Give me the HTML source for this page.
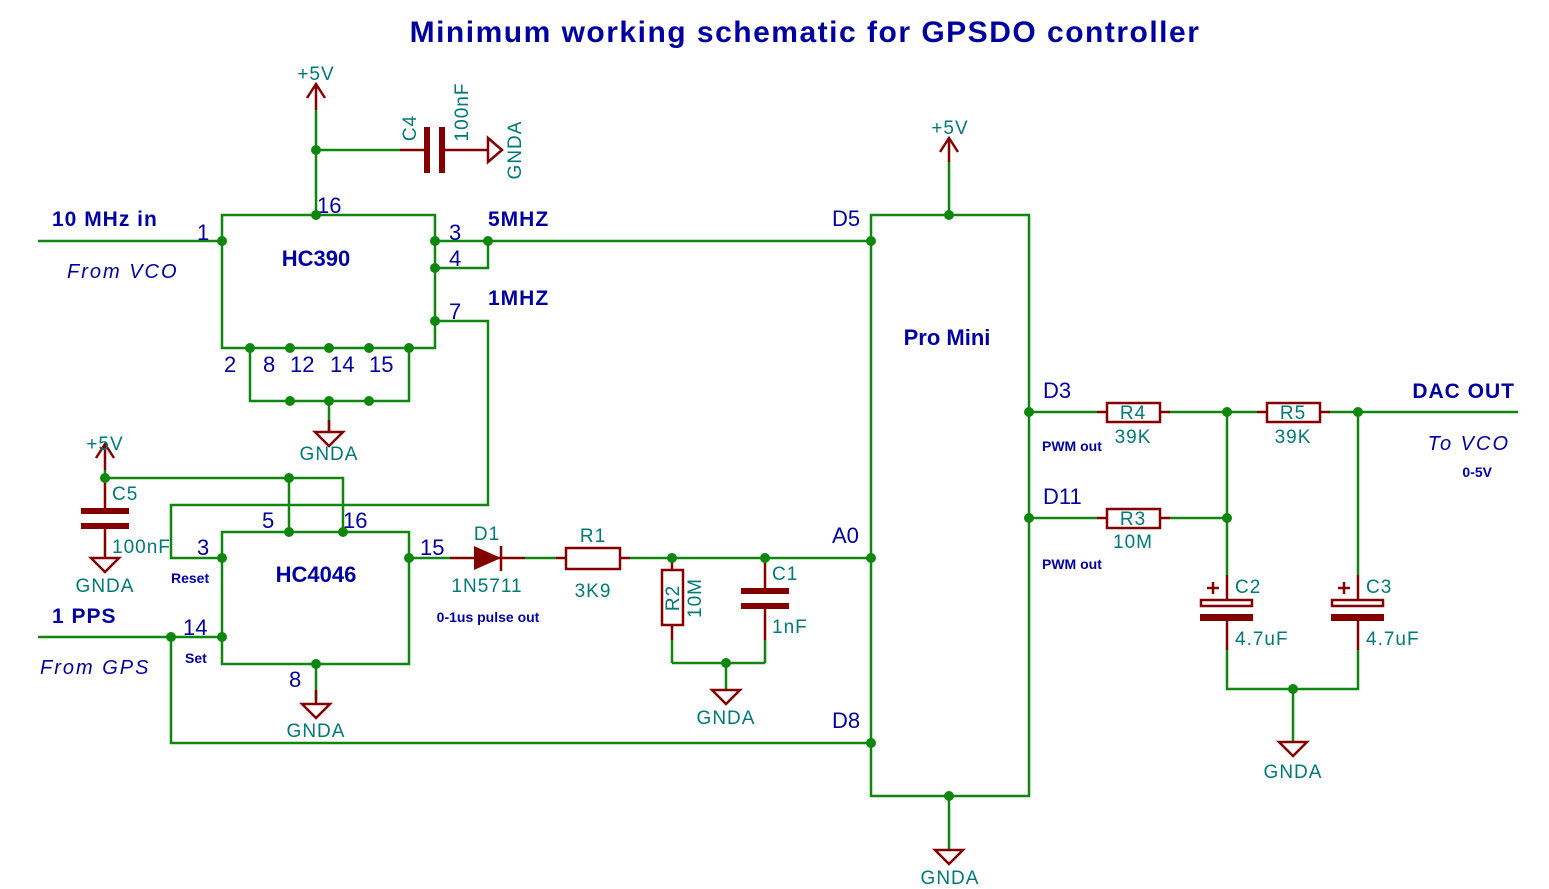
<!DOCTYPE html>
<html><head><meta charset="utf-8"><style>
html,body{margin:0;padding:0;background:#fff;}
svg{display:block;}
.w{stroke:#0f870f;stroke-width:2.5;fill:none;}
.r{stroke:#840000;stroke-width:2.5;fill:none;}
.rf{fill:#840000;stroke:none;}
.j{fill:#0f870f;}
.t{font-family:"Liberation Sans",sans-serif;fill:#007878;font-size:19px;letter-spacing:1px;}
.b{font-family:"Liberation Sans",sans-serif;fill:#0000a0;font-size:22px;}
.bb{font-family:"Liberation Sans",sans-serif;fill:#0000a0;font-weight:bold;}
.it{font-family:"Liberation Sans",sans-serif;fill:#0000a0;font-style:italic;font-size:20px;letter-spacing:2px;}
</style></head><body>
<svg width="1549" height="889" viewBox="0 0 1549 889" xmlns="http://www.w3.org/2000/svg">
<text x="805" y="42" text-anchor="middle" class="bb" font-size="30" letter-spacing="1.5">Minimum working schematic for GPSDO controller</text>

<!-- HC390 -->
<rect x="222" y="215" width="213" height="133" class="w"/>
<text x="316" y="266" text-anchor="middle" class="bb" font-size="22">HC390</text>
<path class="w" d="M38 241H222 M316 215V110 M316 150H400 M435 241H871 M435 268H488V241 M435 321H488V505H171V558H222
M250 348V401H409V348 M329 401V432"/>
<path class="r" d="M316 110V84 M307 98L316 84L325 98 M400 150H425 M442 150H488 M488 138L502 150L488 162Z"/>
<rect class="rf" x="424" y="127" width="6" height="46"/>
<rect class="rf" x="439" y="127" width="6" height="46"/>
<path class="r" d="M329 420V432 M315 432H343L329 446Z"/>
<text x="316" y="80" text-anchor="middle" class="t">+5V</text>
<text transform="translate(416,128) rotate(-90)" class="t" text-anchor="middle">C4</text>
<text transform="translate(468,112) rotate(-90)" class="t" text-anchor="middle">100nF</text>
<text transform="translate(521,150) rotate(-90)" class="t" text-anchor="middle">GNDA</text>
<text x="329" y="460" text-anchor="middle" class="t">GNDA</text>
<text x="317" y="213" class="b">16</text>
<text x="197" y="240" class="b">1</text>
<text x="449" y="240" class="b">3</text>
<text x="449" y="266" class="b">4</text>
<text x="449" y="319" class="b">7</text>
<text x="224" y="372" class="b">2</text>
<text x="263" y="372" class="b">8</text>
<text x="290" y="372" class="b">12</text>
<text x="330" y="372" class="b">14</text>
<text x="369" y="372" class="b">15</text>
<text x="52" y="226" class="bb" font-size="21" letter-spacing="1">10 MHz in</text>
<text x="67" y="278" class="it">From VCO</text>
<text x="488" y="226" class="bb" font-size="21" letter-spacing="1">5MHZ</text>
<text x="488" y="305" class="bb" font-size="21" letter-spacing="1">1MHZ</text>

<!-- HC4046 -->
<rect x="222" y="532" width="187" height="132" class="w"/>
<text x="316" y="582" text-anchor="middle" class="bb" font-size="22">HC4046</text>
<path class="w" d="M105 478H343V532 M289 478V532 M105 478V470 M38 637H222 M171 637V743H871 M316 664V700"/>
<path class="r" d="M105 470V444 M96 458L105 444L114 458 M105 478V512 M105 526V558 M91 558H119L105 572Z"/>
<rect class="rf" x="81" y="508" width="48" height="6"/>
<rect class="rf" x="81" y="523" width="48" height="6"/>
<path class="r" d="M316 690V704 M302 704H330L316 718Z"/>
<text x="105" y="450" text-anchor="middle" class="t">+5V</text>
<text x="112" y="500" class="t">C5</text>
<text x="112" y="553" class="t">100nF</text>
<text x="105" y="592" text-anchor="middle" class="t">GNDA</text>
<text x="316" y="737" text-anchor="middle" class="t">GNDA</text>
<text x="197" y="555" class="b">3</text>
<text x="171" y="583" class="bb" font-size="14">Reset</text>
<text x="183" y="635" class="b">14</text>
<text x="185" y="663" class="bb" font-size="14">Set</text>
<text x="262" y="528" class="b">5</text>
<text x="343" y="528" class="b">16</text>
<text x="420" y="555" class="b">15</text>
<text x="289" y="687" class="b">8</text>
<text x="52" y="623" class="bb" font-size="21" letter-spacing="1">1 PPS</text>
<text x="40" y="674" class="it">From GPS</text>

<!-- diode chain -->
<path class="w" d="M409 558H450 M525 558H556 M630 558H871 M672 663H765 M726 663V690"/>
<path class="r" d="M450 558H525 M501 546V571 M556 558H566 M620 558H630"/>
<path class="rf" d="M474 546L501 558L474 570Z"/>
<rect x="566" y="548" width="54" height="21" class="r"/>
<path class="r" d="M672 558V570 M672 626V640 M765 558V592 M765 606V640"/>
<path class="w" d="M672 640V663 M765 640V663"/>
<rect x="662" y="570" width="21" height="55" class="r"/>
<rect class="rf" x="741" y="588" width="48" height="6"/>
<rect class="rf" x="741" y="603" width="48" height="6"/>
<path class="r" d="M712 690H740L726 704Z"/>
<text x="487" y="540" text-anchor="middle" class="t">D1</text>
<text x="487" y="592" text-anchor="middle" class="t">1N5711</text>
<text x="488" y="622" text-anchor="middle" class="bb" font-size="14">0-1us pulse out</text>
<text x="593" y="542" text-anchor="middle" class="t">R1</text>
<text x="593" y="597" text-anchor="middle" class="t">3K9</text>
<text transform="translate(679,598) rotate(-90)" class="t" text-anchor="middle">R2</text>
<text transform="translate(701,598) rotate(-90)" class="t" text-anchor="middle">10M</text>
<text x="772" y="580" class="t">C1</text>
<text x="772" y="633" class="t">1nF</text>
<text x="726" y="724" text-anchor="middle" class="t">GNDA</text>

<!-- Pro Mini -->
<rect x="871" y="215" width="158" height="581" class="w"/>
<text x="947" y="345" text-anchor="middle" class="bb" font-size="22">Pro Mini</text>
<path class="w" d="M949 215V162 M949 796V850"/>
<path class="r" d="M949 162V138 M940 152L949 138L958 152 M935 850H963L949 864Z"/>
<text x="950" y="134" text-anchor="middle" class="t">+5V</text>
<text x="950" y="884" text-anchor="middle" class="t">GNDA</text>
<text x="832" y="226" class="b">D5</text>
<text x="832" y="543" class="b">A0</text>
<text x="832" y="728" class="b">D8</text>
<text x="1043" y="398" class="b">D3</text>
<text x="1043" y="504" class="b">D11</text>

<!-- DAC filter -->
<path class="w" d="M1029 412H1097 M1170 412H1257 M1330 412H1518 M1029 518H1097 M1170 518H1227 M1227 412V575 M1358 412V575 M1227 650V689H1358V650 M1293 689V742"/>
<path class="r" d="M1097 412H1107 M1160 412H1170 M1257 412H1267 M1320 412H1330 M1097 518H1107 M1160 518H1170
M1227 575V600 M1227 620V650 M1358 575V600 M1358 620V650 M1279 742H1307L1293 756Z"/>
<rect x="1107" y="403" width="53" height="19" class="r"/>
<rect x="1267" y="403" width="53" height="19" class="r"/>
<rect x="1107" y="509" width="53" height="19" class="r"/>
<rect x="1201" y="600" width="51" height="6" class="r" stroke-width="2"/>
<rect class="rf" x="1200" y="614" width="53" height="7"/>
<rect x="1332" y="600" width="51" height="6" class="r" stroke-width="2"/>
<rect class="rf" x="1331" y="614" width="53" height="7"/>
<path class="r" d="M1207 588H1219 M1213 582V594 M1338 588H1350 M1344 582V594" stroke-width="2"/>
<text x="1133" y="419" text-anchor="middle" class="t">R4</text>
<text x="1133" y="443" text-anchor="middle" class="t">39K</text>
<text x="1293" y="419" text-anchor="middle" class="t">R5</text>
<text x="1293" y="443" text-anchor="middle" class="t">39K</text>
<text x="1133" y="525" text-anchor="middle" class="t">R3</text>
<text x="1133" y="548" text-anchor="middle" class="t">10M</text>
<text x="1042" y="451" class="bb" font-size="14">PWM out</text>
<text x="1042" y="569" class="bb" font-size="14">PWM out</text>
<text x="1235" y="593" class="t">C2</text>
<text x="1366" y="593" class="t">C3</text>
<text x="1235" y="645" class="t">4.7uF</text>
<text x="1366" y="645" class="t">4.7uF</text>
<text x="1293" y="778" text-anchor="middle" class="t">GNDA</text>
<text x="1515" y="398" text-anchor="end" class="bb" font-size="21" letter-spacing="1">DAC OUT</text>
<text x="1510" y="450" text-anchor="end" class="it">To VCO</text>
<text x="1492" y="477" text-anchor="end" class="bb" font-size="14">0-5V</text>

<!-- junctions -->
<g class="j">
<circle cx="316" cy="150" r="5"/><circle cx="316" cy="215" r="5"/><circle cx="222" cy="241" r="5"/>
<circle cx="435" cy="241" r="5"/><circle cx="488" cy="241" r="5"/><circle cx="435" cy="268" r="5"/><circle cx="435" cy="321" r="5"/>
<circle cx="250" cy="348" r="5"/><circle cx="290" cy="348" r="5"/><circle cx="329" cy="348" r="5"/><circle cx="369" cy="348" r="5"/><circle cx="409" cy="348" r="5"/>
<circle cx="290" cy="401" r="5"/><circle cx="329" cy="401" r="5"/><circle cx="369" cy="401" r="5"/>
<circle cx="105" cy="478" r="5"/><circle cx="289" cy="478" r="5"/><circle cx="289" cy="532" r="5"/><circle cx="343" cy="532" r="5"/>
<circle cx="222" cy="558" r="5"/><circle cx="409" cy="558" r="5"/><circle cx="222" cy="637" r="5"/><circle cx="171" cy="637" r="5"/><circle cx="316" cy="664" r="5"/>
<circle cx="672" cy="558" r="5"/><circle cx="765" cy="558" r="5"/><circle cx="726" cy="663" r="5"/>
<circle cx="871" cy="241" r="5"/><circle cx="871" cy="558" r="5"/><circle cx="871" cy="743" r="5"/>
<circle cx="949" cy="215" r="5"/><circle cx="949" cy="796" r="5"/>
<circle cx="1029" cy="412" r="5"/><circle cx="1029" cy="518" r="5"/><circle cx="1227" cy="412" r="5"/><circle cx="1358" cy="412" r="5"/>
<circle cx="1227" cy="518" r="5"/><circle cx="1293" cy="689" r="5"/>
</g>
</svg>
</body></html>
